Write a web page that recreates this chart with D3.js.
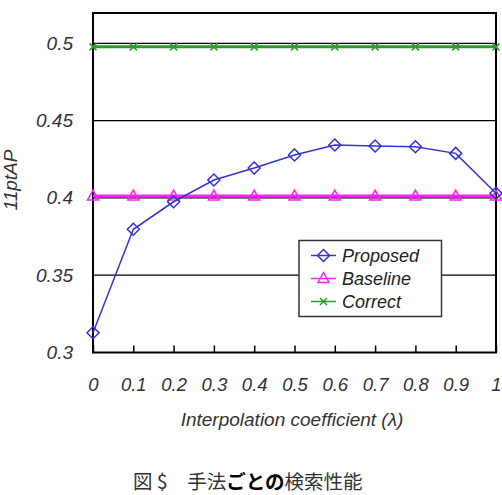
<!DOCTYPE html>
<html>
<head>
<meta charset="utf-8">
<script src="https://cdn.jsdelivr.net/npm/d3@7"></script>
<style>
body { margin: 0; background: #fff; }
svg text { font-family: "Liberation Sans", Arial, sans-serif; }
</style>
</head>
<body>
<svg id="chart" width="502" height="495"></svg>
<script>
/************************************ Data *******************************/
var lambdas = [0, 0.1, 0.2, 0.3, 0.4, 0.5, 0.6, 0.7, 0.8, 0.9, 1];
var proposed = [0.3128, 0.3797, 0.3975, 0.4116, 0.4193, 0.4278, 0.4342, 0.4336, 0.4331, 0.4288, 0.403];
var baseline = [0.4012, 0.4012, 0.4012, 0.4012, 0.4012, 0.4012, 0.4012, 0.4012, 0.4012, 0.4012, 0.4012];
var correct = [0.4977, 0.4977, 0.4977, 0.4977, 0.4977, 0.4977, 0.4977, 0.4977, 0.4977, 0.4977, 0.4977];
var xTicks = [0, 0.1, 0.2, 0.3, 0.4, 0.5, 0.6, 0.7, 0.8, 0.9, 1];
var yTicks = [0.3, 0.35, 0.4, 0.45, 0.5];
var seriesNames = ["Proposed", "Baseline", "Correct"];

/************************************ Layout *******************************/
var plotLeft = 93, plotRight = 496, plotTop = 13, plotBottom = 352.5;
var svg = d3.select("#chart");

var x = d3.scaleLinear().domain([0, 1]).range([plotLeft, plotRight]);
var y = d3.scaleLinear().domain([0.3, 0.5]).range([plotBottom, 43.3]);

// grid lines
svg.append("g").selectAll("line").data(yTicks.slice(1)).enter().append("line")
	.attr("x1", plotLeft).attr("x2", plotRight)
	.attr("y1", function(d){ return y(d); }).attr("y2", function(d){ return y(d); })
	.attr("stroke", "#000").attr("stroke-width", 1.2);

// x axis (ticks pointing in)
var xAxis = d3.axisBottom(x).tickValues(xTicks).tickSize(-7).tickPadding(25)
	.tickFormat(function(d){ return d3.format("")(d); });
var gx = svg.append("g").attr("transform", "translate(0," + plotBottom + ")").call(xAxis);
gx.select(".domain").remove();
gx.selectAll("line").attr("stroke", "#000").attr("stroke-width", 1.5);
gx.selectAll("text").attr("font-size", 18.5).attr("font-style", "italic").attr("fill", "#333");

// y axis
var yAxis = d3.axisLeft(y).tickValues(yTicks).tickSize(0).tickPadding(20)
	.tickFormat(function(d){ return d3.format("")(d); });
var gy = svg.append("g").attr("transform", "translate(" + plotLeft + ",0)").call(yAxis);
gy.select(".domain").remove();
gy.selectAll("text").attr("font-size", 19).attr("font-style", "italic").attr("fill", "#333");

// frame
svg.append("rect").attr("x", plotLeft).attr("y", plotTop)
	.attr("width", plotRight - plotLeft).attr("height", plotBottom - plotTop)
	.attr("fill", "none").attr("stroke", "#000").attr("stroke-width", 2);

/************************************ Series *******************************/
var line = d3.line()
	.x(function(d){ return x(d[0]); })
	.y(function(d){ return y(d[1]); });

function pts(vals){ return lambdas.map(function(l, i){ return [l, vals[i]]; }); }

var series = [
	{name: "Proposed", vals: proposed, color: "#3434d6", width: 1.5, marker: "diamond"},
	{name: "Baseline", vals: baseline, color: "#ff22ff", width: 3, marker: "triangle"},
	{name: "Correct", vals: correct, color: "#2e9a2e", width: 3, marker: "cross"}
];

function drawMarker(g, type, color, cx, cy){
	if (type == "diamond") {
		g.append("path").attr("d", "M" + cx + "," + (cy - 6) + "L" + (cx + 6) + "," + cy + "L" + cx + "," + (cy + 6) + "L" + (cx - 6) + "," + cy + "Z")
			.attr("fill", "none").attr("stroke", color).attr("stroke-width", 1.5);
	} else if (type == "triangle") {
		g.append("path").attr("d", "M" + cx + "," + (cy - 6) + "L" + (cx + 5.5) + "," + (cy + 4) + "L" + (cx - 5.5) + "," + (cy + 4) + "Z")
			.attr("fill", "none").attr("stroke", color).attr("stroke-width", 1.5);
	} else {
		g.append("path").attr("d", "M" + (cx - 3.5) + "," + (cy - 3.5) + "L" + (cx + 3.5) + "," + (cy + 3.5) + "M" + (cx + 3.5) + "," + (cy - 3.5) + "L" + (cx - 3.5) + "," + (cy + 3.5))
			.attr("fill", "none").attr("stroke", color).attr("stroke-width", 1.5);
	}
}

[2, 1, 0].forEach(function(k){
	var s = series[k];
	var g = svg.append("g");
	g.append("path").datum(pts(s.vals)).attr("d", line)
		.attr("fill", "none").attr("stroke", s.color).attr("stroke-width", s.width);
	pts(s.vals).forEach(function(p){
		drawMarker(g, s.marker, s.color, x(p[0]), y(p[1]));
	});
});

/************************************ Legend *******************************/
var lg = svg.append("g");
lg.append("rect").attr("x", 299).attr("y", 240.5).attr("width", 142.5).attr("height", 76)
	.attr("fill", "#fff").attr("stroke", "#333").attr("stroke-width", 1.5);
series.forEach(function(s, i){
	var ly = 255.5 + i * 23;
	lg.append("line").attr("x1", 311).attr("x2", 336).attr("y1", ly).attr("y2", ly)
		.attr("stroke", s.color).attr("stroke-width", 1.5);
	drawMarker(lg, s.marker, s.color, 323.5, ly);
	lg.append("text").attr("x", 342).attr("y", ly + 6.5).text(seriesNames[i])
		.attr("font-size", 18).attr("font-style", "italic").attr("fill", "#222");
});

/************************************ Titles *******************************/
svg.append("text").attr("x", 292).attr("y", 426).attr("text-anchor", "middle")
	.attr("font-size", 19).attr("font-style", "italic").attr("fill", "#333")
	.text("Interpolation coefficient (\u03bb)");

svg.append("text").attr("transform", "translate(17,180) rotate(-90)").attr("text-anchor", "middle")
	.attr("font-size", 19).attr("font-style", "italic").attr("fill", "#333")
	.text("11ptAP");

var cap = svg.append("text").attr("x", 133).attr("y", 489)
	.attr("font-size", 19.5).attr("fill", "#333")
	.style("font-family", "'Noto Sans CJK JP', sans-serif");
cap.append("tspan").text("図 $\u3000手法");
cap.append("tspan").attr("font-weight", "bold").attr("fill", "#000").text("ごとの");
cap.append("tspan").text("検索性能");
</script>
</body>
</html>
